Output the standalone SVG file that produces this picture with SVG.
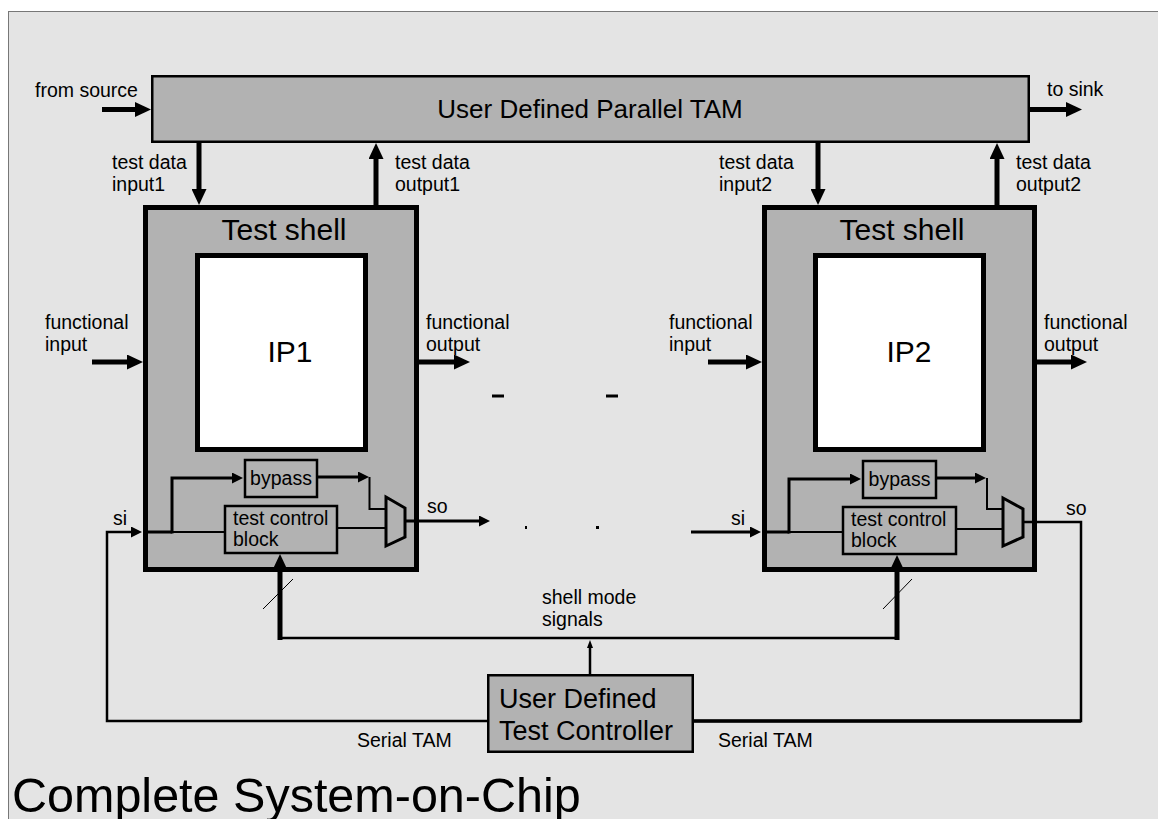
<svg xmlns="http://www.w3.org/2000/svg" width="1158" height="819" viewBox="0 0 1158 819">
<style>
text{font-family:"Liberation Sans",Arial,Helvetica,sans-serif;fill:#000}
.s{font-size:19.5px}
.m{font-size:26px}
.l{font-size:30px}
.box{fill:#b2b2b2;stroke:#000}
.w{stroke:#000;fill:none}
</style>
<defs>
<marker id="big" markerUnits="userSpaceOnUse" markerWidth="16" markerHeight="15" refX="2" refY="7.5" orient="auto"><path d="M0,0 L16,7.5 L0,15 z" fill="#000"/></marker>
<marker id="sm" markerUnits="userSpaceOnUse" markerWidth="11" markerHeight="11" refX="1" refY="5.5" orient="auto"><path d="M0,0 L11,5.5 L0,11 z" fill="#000"/></marker>
<marker id="tiny" markerUnits="userSpaceOnUse" markerWidth="8" markerHeight="6" refX="1" refY="3" orient="auto"><path d="M0,0 L8,3 L0,6 z" fill="#000"/></marker>
</defs>
<rect x="0" y="0" width="1158" height="819" fill="#fff"/>
<rect x="8.5" y="11.5" width="1160" height="820" fill="#e4e4e4" stroke="#777" stroke-width="1"/>

<g id="parallel-tam">
<rect class="box" x="152.25" y="76.25" width="876.5" height="65.5" stroke-width="2.5"/>
<text class="m" x="590" y="118" text-anchor="middle">User Defined Parallel TAM</text>
</g>

<g id="shell1">
<rect class="box" x="145.5" y="207.5" width="271" height="362" stroke-width="5"/>
<text class="l" x="284" y="240" text-anchor="middle">Test shell</text>
<g id="ip1">
<rect x="197.5" y="255.5" width="168" height="194" fill="#fff" stroke="#000" stroke-width="5"/>
<text class="l" x="290" y="362" text-anchor="middle">IP1</text>
</g>
<g id="bypass1">
<rect class="box" x="245" y="460" width="72" height="37" stroke-width="2.5"/>
<text class="s" x="281" y="485" text-anchor="middle">bypass</text>
</g>
<g id="tcb1">
<rect class="box" x="225" y="506" width="112" height="47" stroke-width="2.5"/>
<text class="s" x="233" y="525">test control</text>
<text class="s" x="233" y="546">block</text>
</g>
<g id="mux1">
<polygon class="box" points="386,497 405,508 405,537 386,546" stroke-width="3"/>
</g>
</g>

<g id="shell2">
<rect class="box" x="764.5" y="207.5" width="270" height="362" stroke-width="5"/>
<text class="l" x="902" y="240" text-anchor="middle">Test shell</text>
<g id="ip2">
<rect x="815.5" y="255.5" width="168" height="194" fill="#fff" stroke="#000" stroke-width="5"/>
<text class="l" x="909" y="362" text-anchor="middle">IP2</text>
</g>
<g id="bypass2">
<rect class="box" x="863" y="461" width="73" height="37" stroke-width="2.5"/>
<text class="s" x="899.5" y="486" text-anchor="middle">bypass</text>
</g>
<g id="tcb2">
<rect class="box" x="843" y="507" width="113" height="47" stroke-width="2.5"/>
<text class="s" x="851" y="526">test control</text>
<text class="s" x="851" y="547">block</text>
</g>
<g id="mux2">
<polygon class="box" points="1003,498 1023,509 1023,537 1003,546" stroke-width="3"/>
</g>
</g>

<g id="controller">
<rect class="box" x="488.25" y="675.25" width="204.5" height="76.5" stroke-width="2.5"/>
<text x="499" y="708" style="font-size:27px">User Defined</text>
<text x="499" y="740" style="font-size:27px">Test Controller</text>
</g>

<g id="connectors">
<line class="w" x1="102" y1="109.5" x2="137" y2="109.5" stroke-width="5" marker-end="url(#big)"/>
<line class="w" x1="1030" y1="109.5" x2="1068" y2="109.5" stroke-width="5" marker-end="url(#big)"/>
<line class="w" x1="199" y1="142" x2="199" y2="191" stroke-width="5" marker-end="url(#big)"/>
<line class="w" x1="376" y1="205" x2="376" y2="157" stroke-width="5" marker-end="url(#big)"/>
<line class="w" x1="818" y1="142" x2="818" y2="191" stroke-width="5" marker-end="url(#big)"/>
<line class="w" x1="997" y1="205" x2="997" y2="157" stroke-width="5" marker-end="url(#big)"/>
<line class="w" x1="92" y1="362" x2="129" y2="362" stroke-width="5" marker-end="url(#big)"/>
<line class="w" x1="419" y1="362" x2="456" y2="362" stroke-width="5" marker-end="url(#big)"/>
<line class="w" x1="708" y1="362" x2="748" y2="362" stroke-width="5" marker-end="url(#big)"/>
<line class="w" x1="1037" y1="362" x2="1073" y2="362" stroke-width="5" marker-end="url(#big)"/>
<line class="w" x1="143" y1="532" x2="172" y2="532" stroke-width="3"/>
<line class="w" x1="172" y1="532" x2="225" y2="532" stroke-width="2"/>
<polyline class="w" points="172,533.5 172,478 233,478" stroke-width="3" marker-end="url(#sm)"/>
<polyline class="w" points="317,477 359,477" stroke-width="3" marker-end="url(#sm)"/>
<polyline class="w" points="369.5,477 369.5,509 386,509" stroke-width="2"/>
<line class="w" x1="337" y1="528" x2="386" y2="528" stroke-width="2"/>
<line class="w" x1="405" y1="521" x2="480" y2="521" stroke-width="3" marker-end="url(#sm)"/>
<line class="w" x1="762" y1="532" x2="789" y2="532" stroke-width="3"/>
<line class="w" x1="789" y1="532" x2="843" y2="532" stroke-width="2"/>
<polyline class="w" points="789,533.5 789,479 851,479" stroke-width="3" marker-end="url(#sm)"/>
<polyline class="w" points="936,478 976,478" stroke-width="3" marker-end="url(#sm)"/>
<polyline class="w" points="987,478 987,509 1003,509" stroke-width="2"/>
<line class="w" x1="956" y1="529" x2="1003" y2="529" stroke-width="2"/>
<polyline class="w" points="488,721 107,721 107,532 132,532" stroke-width="2.5" marker-end="url(#sm)"/>
<line class="w" x1="691" y1="532" x2="751" y2="532" stroke-width="3" marker-end="url(#sm)"/>
<polyline class="w" points="1023,522 1081,522 1081,721 692,721" stroke-width="2.5"/>
<line class="w" x1="1081" y1="721" x2="692" y2="721" stroke-width="3.5"/>
<line class="w" x1="280" y1="638" x2="897" y2="638" stroke-width="2.5"/>
<line class="w" x1="280" y1="640" x2="280" y2="568" stroke-width="5" marker-end="url(#big)"/>
<line class="w" x1="897" y1="640" x2="897" y2="569" stroke-width="5" marker-end="url(#big)"/>
<line class="w" x1="263" y1="609" x2="293" y2="579" stroke-width="1"/>
<line class="w" x1="883" y1="609" x2="912" y2="579" stroke-width="1"/>
<line class="w" x1="590" y1="675" x2="590" y2="647" stroke-width="2.5" marker-end="url(#tiny)"/>
<line class="w" x1="492" y1="396" x2="504" y2="396" stroke-width="3"/>
<line class="w" x1="606" y1="396" x2="618" y2="396" stroke-width="3"/>
<rect x="525" y="526" width="2" height="3" fill="#000"/>
<rect x="596" y="526" width="3" height="3" fill="#000"/>
</g>

<g id="labels">
<text class="s" x="35" y="97">from source</text>
<text class="s" x="1047" y="96">to sink</text>
<text class="s" x="112" y="169">test data</text>
<text class="s" x="112" y="191">input1</text>
<text class="s" x="395" y="169">test data</text>
<text class="s" x="395" y="191">output1</text>
<text class="s" x="719" y="169">test data</text>
<text class="s" x="719" y="191">input2</text>
<text class="s" x="1016" y="169">test data</text>
<text class="s" x="1016" y="191">output2</text>
<text class="s" x="45" y="329">functional</text>
<text class="s" x="45" y="351">input</text>
<text class="s" x="426" y="329">functional</text>
<text class="s" x="426" y="351">output</text>
<text class="s" x="669" y="329">functional</text>
<text class="s" x="669" y="351">input</text>
<text class="s" x="1044" y="329">functional</text>
<text class="s" x="1044" y="351">output</text>
<text class="s" x="113" y="525">si</text>
<text class="s" x="427" y="513">so</text>
<text class="s" x="731" y="525">si</text>
<text class="s" x="1066" y="515">so</text>
<text class="s" x="542" y="604">shell mode</text>
<text class="s" x="542" y="626">signals</text>
<text class="s" x="357" y="747">Serial TAM</text>
<text class="s" x="718" y="747">Serial TAM</text>
<text x="12" y="812" style="font-size:48.5px">Complete System-on-Chip</text>
</g>
</svg>
